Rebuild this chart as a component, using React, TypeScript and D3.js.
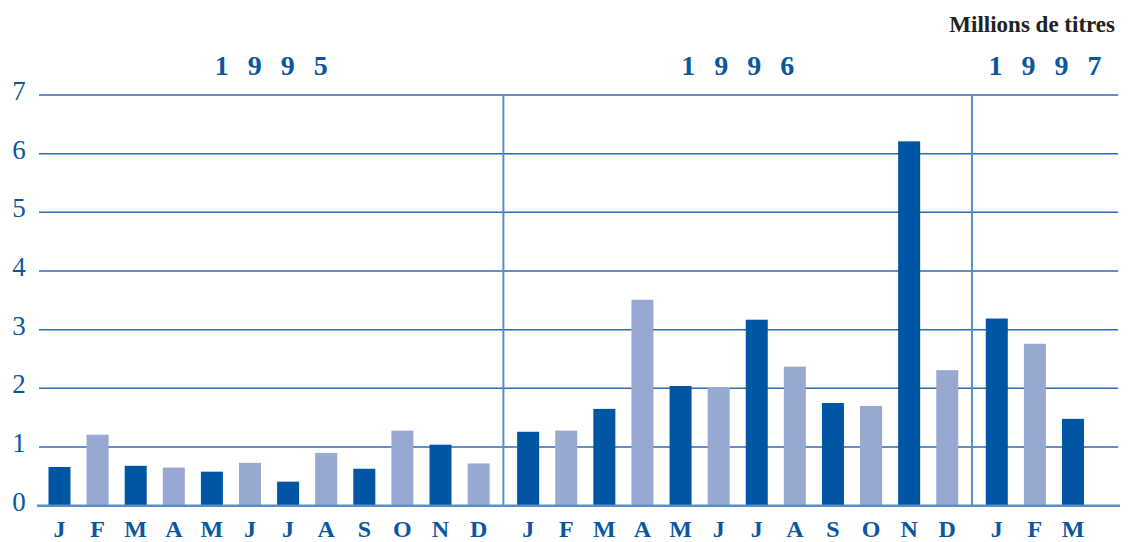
import React from "react";
import * as d3 from "d3";

const months = ["J","F","M","A","M","J","J","A","S","O","N","D","J","F","M","A","M","J","J","A","S","O","N","D","J","F","M"];
const yearOfBar = [0,0,0,0,0,0,0,0,0,0,0,0,1,1,1,1,1,1,1,1,1,1,1,1,2,2,2];
const values = [0.66,1.21,0.68,0.65,0.58,0.73,0.41,0.90,0.63,1.28,1.04,0.72,1.26,1.28,1.65,3.51,2.04,2.01,3.17,2.37,1.75,1.70,6.21,2.31,3.19,2.76,1.48];
const years = ["1995","1996","1997"];
const yTicks = [0,1,2,3,4,5,6,7];
const unitLabel = "Millions de titres";

const DARK = "#0055A4";
const LIGHT = "#97A8D2";
const GRID = "#2e6bb0";
const SEP = "#5b8ec6";
const TXT = "#0a56a0";

export default function App() {
  const W = 1130, H = 542;
  const left = 39, right = 1118;
  const y = d3.scaleLinear().domain([0, 7]).range([505.7, 95]);
  const gapSlots = 0.3;
  const slot = (i: number) => i + yearOfBar[i] * gapSlots;
  const x = d3.scaleLinear().domain([0, slot(months.length - 1)]).range([59.5, 1073]);
  const barW = 22;
  const sepX = [1, 2].map((yr) => {
    const first = yearOfBar.indexOf(yr);
    return (x(slot(first - 1)) + x(slot(first))) / 2;
  });
  const bounds = [left, ...sepX, right];
  const serif = "'Liberation Serif', 'DejaVu Serif', serif";

  return (
    <svg width={W} height={H} style={{ position: "absolute", left: 0, top: 0, background: "#fff" }}>
      {yTicks.filter((t) => t > 0).map((t) => (
        <line key={"g" + t} x1={left} x2={right} y1={y(t)} y2={y(t)} stroke={GRID} strokeWidth={1.5} />
      ))}
      {values.map((v, i) => (
        <rect
          key={"b" + i}
          x={x(slot(i)) - barW / 2}
          y={y(v)}
          width={barW}
          height={y(0) - y(v)}
          fill={i % 2 === 0 ? DARK : LIGHT}
        />
      ))}
      {sepX.map((sx, k) => (
        <line key={"s" + k} x1={sx} x2={sx} y1={y(7)} y2={y(0)} stroke={SEP} strokeWidth={2} />
      ))}
      <line x1={37} x2={1120} y1={y(0)} y2={y(0)} stroke={SEP} strokeWidth={2.5} />
      {yTicks.map((t) => (
        <text key={"t" + t} x={19} y={y(t) + 5} textAnchor="middle" fontFamily={serif} fontSize={27} fill={TXT}>
          {t}
        </text>
      ))}
      {months.map((m, i) => (
        <text key={"m" + i} x={x(slot(i))} y={537} textAnchor="middle" fontFamily={serif} fontWeight="bold" fontSize={24} fill={TXT}>
          {m}
        </text>
      ))}
      {years.map((yr, k) => {
        const cx = (bounds[k] + bounds[k + 1]) / 2;
        return (
          <text key={"y" + yr} x={cx + 9.5} y={75} textAnchor="middle" fontFamily={serif} fontWeight="bold" fontSize={28} letterSpacing={19} fill={TXT}>
            {yr}
          </text>
        );
      })}
      <text x={1115} y={32} textAnchor="end" fontFamily={serif} fontWeight="bold" fontSize={23} fill="#222">
        {unitLabel}
      </text>
    </svg>
  );
}
